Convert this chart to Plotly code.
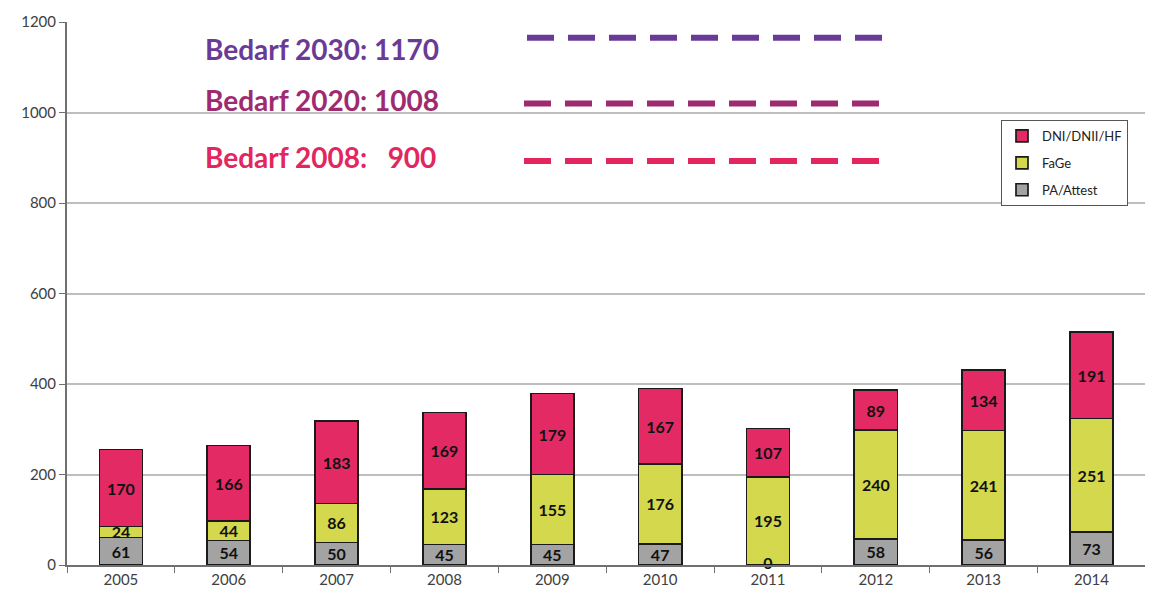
import plotly.graph_objects as go

years = ["2005", "2006", "2007", "2008", "2009", "2010", "2011", "2012", "2013", "2014"]
pa_attest = [61, 54, 50, 45, 45, 47, 0, 58, 56, 73]
fage = [24, 44, 86, 123, 155, 176, 195, 240, 241, 251]
dni = [170, 166, 183, 169, 179, 167, 107, 89, 134, 191]

bedarf_labels = ["Bedarf 2030: 1170", "Bedarf 2020: 1008", "Bedarf 2008:\u00a0\u00a0\u00a0900"]
bedarf_line_levels = [1165, 1020, 893]
bedarf_text_levels = [1140, 1028, 902]
bedarf_colors = ["#6A3B96", "#9E2A70", "#E3265E"]

FONT = "Lato"
label_font = dict(family=FONT, size=16, color="#111111")

# page body has an 8px margin: figure starts at (8, 8) in the window
W, H = 1145, 589
L, T = 59, 14
PW = W - L          # plot width 1086
PH = 543            # plot height
B = H - T - PH

fig = go.Figure()
series = [
    ("PA/Attest", pa_attest, "#A3A3A3", 3),
    ("FaGe", fage, "#D3D84C", 2),
    ("DNI/DNII/HF", dni, "#E32A64", 1),
]
for name, vals, col, rank in series:
    fig.add_trace(go.Bar(
        name=name, x=years, y=vals, legendgroup=name, legendrank=rank,
        marker=dict(color=col, line=dict(color="#1a1a1a", width=1.7)),
        width=0.4,
        text=[str(v) for v in vals],
        texttemplate="<b>%{text}</b>",
        textposition="inside",
        insidetextanchor="middle",
        textangle=0,
        constraintext="none",
        insidetextfont=label_font,
    ))

# labels for zero-height segments (not drawn by the bar text)
zero_x = [y for y, v in zip(years, pa_attest) if v == 0]
fig.add_trace(go.Scatter(
    x=zero_x, y=[0] * len(zero_x), mode="text",
    text=["<b>0</b>"] * len(zero_x), textposition="middle center",
    textfont=label_font, showlegend=False, hoverinfo="skip", cliponaxis=False,
))

def px(xs):
    return (xs - 8 - L) / PW

# dashed demand lines
x0s = [px(527), px(524), px(524)]
x1s = [px(883), px(880), px(880)]
for lvl, col, a, b in zip(bedarf_line_levels, bedarf_colors, x0s, x1s):
    fig.add_shape(type="line", xref="paper", yref="y", x0=a, x1=b, y0=lvl, y1=lvl,
                  line=dict(color=col, width=6, dash="27px,14px"))

for txt, lvl, col in zip(bedarf_labels, bedarf_text_levels, bedarf_colors):
    fig.add_annotation(text="<b>" + txt + "</b>", xref="paper", yref="y",
                       x=px(203), y=lvl, xanchor="left", yanchor="middle",
                       showarrow=False, font=dict(family=FONT, size=28, color=col))

fig.update_layout(
    width=W, height=H,
    margin=dict(l=L, r=0, t=T, b=B, autoexpand=False),
    barmode="stack",
    plot_bgcolor="white", paper_bgcolor="white",
    font=dict(family=FONT, size=15, color="#404040"),
    showlegend=True,
    legend=dict(
        x=px(1128), y=(PH - (120 - 8 - T)) / PH, xanchor="right", yanchor="top",
        bgcolor="white", bordercolor="#555555", borderwidth=1,
        font=dict(family=FONT, size=13, color="#222222"),
        traceorder="grouped", itemwidth=30,
        tracegroupgap=7,
    ),
    xaxis=dict(
        type="category", range=[-0.5, 9.57], automargin=False,
        showline=True, linecolor="#707070", linewidth=2,
        ticks="outside", ticklen=6, tickcolor="#707070", tickson="boundaries",
        tickfont=dict(family=FONT, size=15, color="#404040"),
        showgrid=False,
    ),
    yaxis=dict(
        range=[0, 1200], tickvals=[0, 200, 400, 600, 800, 1000, 1200], automargin=False,
        showline=True, linecolor="#707070", linewidth=2,
        ticks="outside", ticklen=6, tickcolor="#707070",
        showgrid=True, gridcolor="#BEBEBE", gridwidth=1.5,
        tickfont=dict(family=FONT, size=15, color="#404040"),
        zeroline=False,
    ),
)

fig.write_html("out.html")
